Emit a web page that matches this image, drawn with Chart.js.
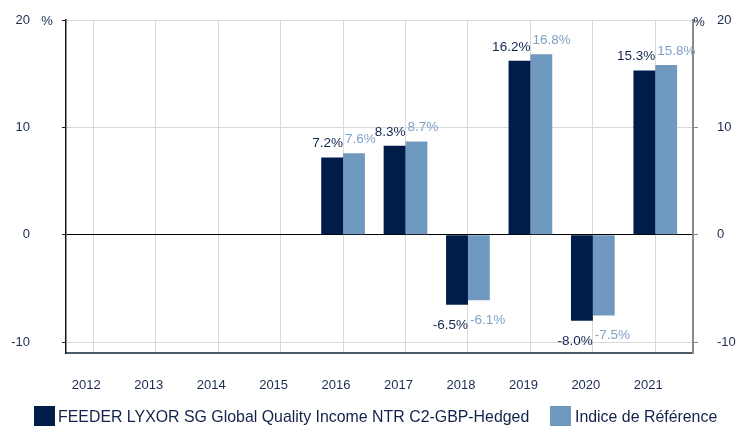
<!DOCTYPE html>
<html>
<head>
<meta charset="utf-8">
<script src="https://cdn.jsdelivr.net/npm/chart.js@4"></script>
<style>
  body { margin: 0; background: #fff; font-family: "Liberation Sans", Arial, sans-serif; }
  #wrap { position: relative; width: 736px; height: 426px; }
  .legend { position: absolute; top: 406px; left: 0; width: 736px; height: 20px; font-size: 15.9px; color: #13224a; }
  .legend span { position: absolute; top: 0; line-height: 22px; white-space: nowrap; }
  .legend i { position: absolute; top: 0; width: 21px; height: 22px; }
</style>
</head>
<body>
<div id="wrap">
  <canvas id="chart"></canvas>
  <div class="legend">
    <i style="left:34px; background:#001d4a"></i><span style="left:58px">FEEDER LYXOR SG Global Quality Income NTR C2-GBP-Hedged</span>
    <i style="left:550px; background:#7099bf"></i><span style="left:575px">Indice de Référence</span>
  </div>
</div>
<script>
const years = ['2012', '2013', '2014', '2015', '2016', '2017', '2018', '2019', '2020', '2021'];
const fundValues = [null, null, null, null, 7.2, 8.3, -6.5, 16.2, -8.0, 15.3];
const indexValues = [null, null, null, null, 7.6, 8.7, -6.1, 16.8, -7.5, 15.8];
const yTicks = [-10, 0, 10, 20];

const fundColor = '#001d4a';
const indexColor = '#7099bf';
const textColor = '#1b2b4f';
const fontFamily = '"Liberation Sans", Arial, sans-serif';

function toPoints(values) {
  return values.map((v, i) => ({ x: i, y: v })).filter(p => p.y !== null);
}

// value labels above/below bars, plus the two % unit marks
const labelPlugin = {
  id: 'valueLabels',
  afterDatasetsDraw(chart) {
    const ctx = chart.ctx;
    ctx.save();
    ctx.font = '13.5px ' + fontFamily;
    chart.data.datasets.forEach((ds, di) => {
      const meta = chart.getDatasetMeta(di);
      meta.data.forEach((bar, i) => {
        const v = ds.data[i].y;
        const left = bar.x - bar.width / 2;
        const right = bar.x + bar.width / 2;
        ctx.fillStyle = di === 0 ? '#13264f' : '#7fa2c6';
        ctx.textAlign = di === 0 ? 'right' : 'left';
        const tx = di === 0 ? right : left + 2;
        const ty = v >= 0 ? bar.y - 10 : bar.y + 24;
        ctx.fillText(v.toFixed(1) + '%', tx, ty);
      });
    });
    ctx.font = '13px ' + fontFamily;
    ctx.fillStyle = textColor;
    ctx.textAlign = 'center';
    ctx.textBaseline = 'middle';
    ctx.fillText('%', 47, 21);
    ctx.fillText('%', 699, 22);
    ctx.restore();
  }
};

// fixed axis widths so the plot area sits where the original one does
const yFit = w => s => { s.width = w; s.paddingTop = 20; s.paddingBottom = 0; };

const ctx = document.getElementById('chart').getContext('2d');
new Chart(ctx, {
  type: 'bar',
  data: {
    datasets: [
      { label: 'FEEDER LYXOR SG Global Quality Income NTR C2-GBP-Hedged', data: toPoints(fundValues), backgroundColor: fundColor, yAxisID: 'y' },
      { label: 'Indice de Référence', data: toPoints(indexValues), backgroundColor: indexColor, yAxisID: 'y' }
    ]
  },
  options: {
    responsive: true,
    maintainAspectRatio: false,
    animation: false,
    categoryPercentage: 0.7,
    barPercentage: 1.0,
    layout: { padding: { top: 0, bottom: 28, left: 0, right: 0 } },
    plugins: { legend: { display: false }, tooltip: { enabled: false } },
    scales: {
      x: {
        type: 'linear',
        min: -0.437,
        max: 9.604,
        offset: false,
        afterFit: s => { s.height = 45; },
        grid: { offset: false, color: '#d9d9d9', drawTicks: false, lineWidth: 1 },
        border: { color: '#4d5a6c', width: 2 },
        ticks: {
          stepSize: 1,
          includeBounds: false,
          autoSkip: false,
          maxRotation: 0,
          padding: 25,
          labelOffset: -7,
          color: textColor,
          font: { size: 13, family: fontFamily },
          callback: v => years[v] ?? ''
        }
      },
      y: {
        position: 'left',
        min: -11,
        max: 20,
        afterFit: yFit(66),
        grid: {
          color: c => c.tick && c.tick.value === 0 ? '#000000' : '#d9d9d9',
          tickColor: '#222222',
          tickLength: 4
        },
        border: { color: '#1a1a1a', width: 1.5 },
        ticks: {
          stepSize: 10,
          includeBounds: false,
          padding: 32,
          color: textColor,
          font: { size: 13, family: fontFamily },
          callback: v => yTicks.includes(v) ? v : ''
        }
      },
      y2: {
        position: 'right',
        min: -11,
        max: 20,
        afterFit: yFit(43),
        grid: { drawOnChartArea: false, tickColor: '#888888', tickLength: 5 },
        border: { color: '#8a8a8a', width: 2 },
        ticks: {
          stepSize: 10,
          includeBounds: false,
          padding: 19,
          color: textColor,
          font: { size: 13, family: fontFamily },
          callback: v => yTicks.includes(v) ? v : ''
        }
      }
    }
  },
  plugins: [labelPlugin]
});
</script>
</body>
</html>
